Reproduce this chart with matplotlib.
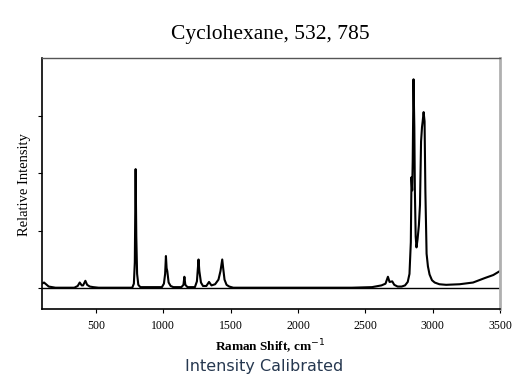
import matplotlib
matplotlib.use("Agg")
import matplotlib.pyplot as plt

# Raman spectrum of cyclohexane
shift = [100, 115, 130, 150, 200, 340, 365, 380, 395, 405, 422, 435, 455, 480, 520,
         770, 782, 789, 795, 800, 806, 815, 830,
         990, 1005, 1014, 1020, 1025, 1030, 1040, 1055, 1075,
         1135, 1150, 1157, 1164, 1180,
         1235, 1250, 1262, 1268, 1280, 1295,
         1320, 1340, 1358, 1385, 1410, 1425, 1438, 1445, 1455, 1470, 1490, 1520,
         1600, 2000, 2400, 2550, 2620, 2650, 2668, 2680, 2700, 2715, 2740, 2770,
         2795, 2815, 2828, 2838, 2843, 2848, 2852, 2858, 2864, 2868, 2874, 2880,
         2888, 2898, 2906, 2914, 2921, 2926, 2933, 2940, 2946, 2955, 2965, 2977,
         2995, 3015, 3050, 3100, 3200, 3300, 3390, 3450, 3500]
intensity = [0.08, 0.10, 0.07, 0.03, 0.01, 0.01, 0.04, 0.10, 0.05, 0.05, 0.13, 0.06, 0.03, 0.02, 0.01,
             0.01, 0.08, 0.45, 2.07, 0.9, 0.25, 0.06, 0.02,
             0.02, 0.08, 0.25, 0.56, 0.35, 0.30, 0.10, 0.04, 0.02,
             0.02, 0.06, 0.20, 0.06, 0.02,
             0.02, 0.12, 0.50, 0.30, 0.10, 0.04,
             0.04, 0.11, 0.05, 0.07, 0.15, 0.30, 0.50, 0.35, 0.15, 0.06, 0.03, 0.01,
             0.01, 0.01, 0.01, 0.02, 0.05, 0.08, 0.20, 0.11, 0.12, 0.06, 0.03, 0.03,
             0.05, 0.11, 0.25, 0.80, 1.93, 1.70, 2.20, 3.63, 2.80, 1.70, 0.90, 0.71,
             0.85, 1.10, 1.45, 2.55, 2.80, 2.90, 3.06, 2.90, 1.69, 0.60, 0.38, 0.24,
             0.14, 0.10, 0.07, 0.06, 0.07, 0.10, 0.18, 0.23, 0.30]

title = "Cyclohexane, 532, 785"
xlabel = "Raman Shift, cm$^{-1}$"
ylabel = "Relative Intensity"
caption = "Intensity Calibrated"
xticks = [500, 1000, 1500, 2000, 2500, 3000, 3500]
yticks = [0, 1, 2, 3]

serif = "Liberation Serif"

fig = plt.figure(figsize=(5.32, 3.90), dpi=100)
ax = fig.add_axes([42/532, 1 - 309/390, (500-42)/532, (309-58)/390])

ax.plot(shift, intensity, color="black", lw=1.5)
ax.axhline(0, color="black", lw=1.0)

ax.set_xlim(100, 3500)
ax.set_ylim(-0.36, 4.0)
ax.set_xticks(xticks)
ax.set_xticklabels([str(t) for t in xticks], fontfamily=serif, fontsize=8.5)
ax.set_yticks(yticks)
ax.set_yticklabels([])
ax.tick_params(direction="out", length=3, width=0.8, pad=5)

for s in ("left", "bottom"):
    ax.spines[s].set_color("black")
    ax.spines[s].set_linewidth(1.2)
ax.spines["top"].set_color("#555555")
ax.spines["top"].set_linewidth(1.0)
ax.spines["right"].set_color("#b0b0b0")
ax.spines["right"].set_linewidth(2.0)

fig.text(270/532, 1 - 34/390, title, fontfamily=serif, fontsize=15.5,
         ha="center", va="center")
fig.text(270/532, 1 - 347/390, xlabel, fontfamily=serif, fontsize=9.5,
         ha="center", va="center", fontweight="bold")
fig.text(25/532, 1 - 185/390, ylabel, fontfamily=serif, fontsize=10.5,
         ha="center", va="center", rotation=90)
fig.text(264/532, 1 - 367/390, caption, fontfamily="DejaVu Sans", fontsize=11.5,
         ha="center", va="center", color="#263850")

fig.savefig("out.png", dpi=100)
